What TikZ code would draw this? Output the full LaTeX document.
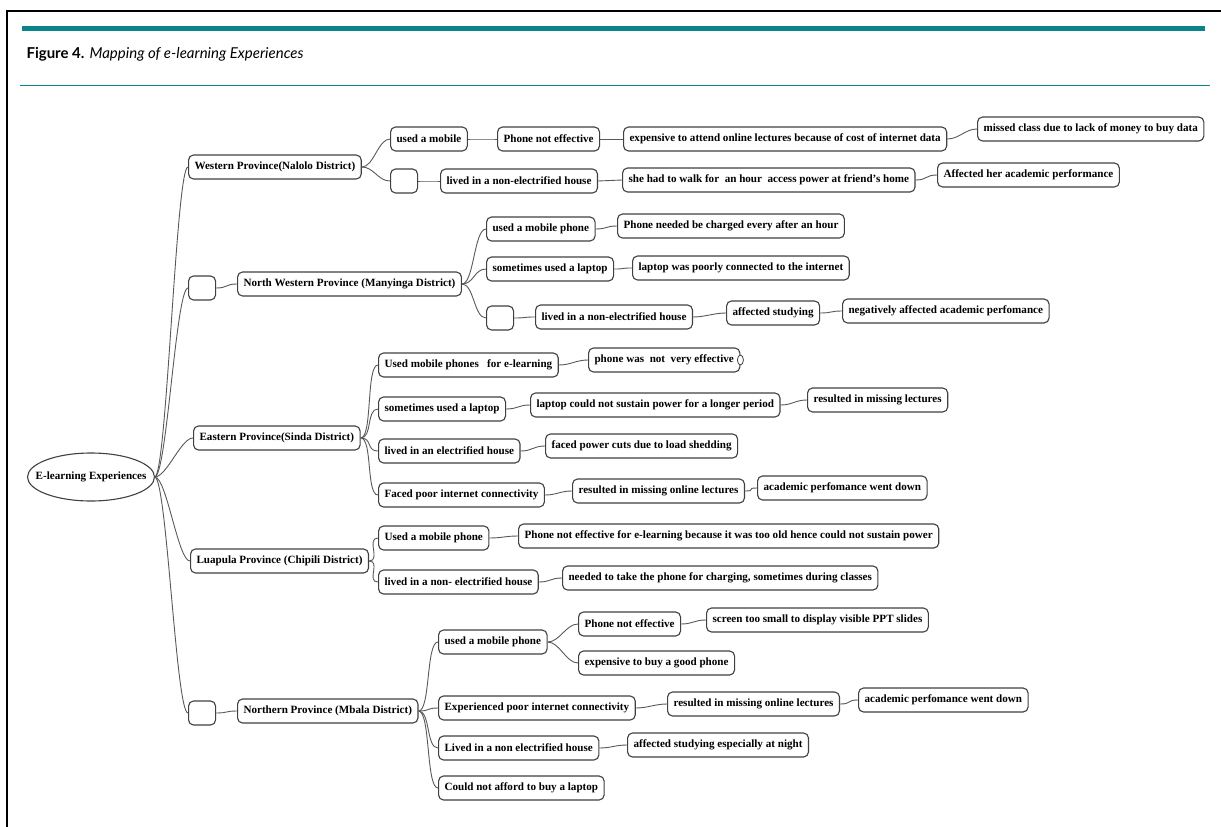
\documentclass[tikz,border=0pt]{standalone}
\usepackage{fontspec}
\setmainfont{Liberation Serif}
\newfontfamily\capfont{Lato}
\usetikzlibrary{shapes.geometric}
\definecolor{tealbar}{RGB}{10,132,138}

\begin{document}
\begin{tikzpicture}[x=1pt,y=-1pt,
    box/.style={draw=black!75, line width=1.1pt, rounded corners=5pt, fill=white, minimum height=24pt, inner xsep=6pt, inner ysep=2pt, anchor=west, font=\bfseries\fontsize{11.1}{13}\selectfont},
    blank/.style={box, minimum width=27pt},
    branch/.style={draw=black!65, line width=0.9pt, to path={.. controls +(12,0) and +(-12,0) .. (\tikztotarget)}}]
    \useasboundingbox (0,0) rectangle (1221,827);
    \draw[line width=1.5pt] (7,827) -- (7,11) -- (1221,11);
    \draw[tealbar, line width=5pt] (22,28) -- (1205,28);
    \draw[tealbar, line width=1pt] (20,85) -- (1210,85);
    \node[anchor=west, font=\capfont\fontsize{15}{17}\selectfont] (cap) at (23,54) {\textbf{Figure 4.} \textit{Mapping of e-learning Experiences}};

    \node[minimum width=127pt, minimum height=48pt, inner sep=0pt, font=\bfseries\fontsize{11.1}{13}\selectfont] (root) at (91,477) {E-learning Experiences};
    \draw[black!75, line width=1.1pt] (root.center) ellipse [x radius=63.5pt, y radius=24pt];

    \node[box] (west) at (188,167) {Western Province(Nalolo District)};
    \node[box] (w1) at (390,139) {used a mobile};
    \node[box] (w1a) at (497,139) {Phone not effective};
    \node[box] (w1b) at (623,139) {expensive to attend online lectures because of cost of internet data};
    \node[box] (w1c) at (977,129) {missed class due to lack of money to buy data};
    \node[blank] (wbox) at (390,181) {};
    \node[box] (w2) at (440,181) {lived in a non-electrified house};
    \node[box] (w2a) at (622,180) {she had to walk for\ \ an hour\ \ access power at friend's home};
    \node[box] (w2b) at (937,175) {Affected her academic performance};

    \node[blank] (nwbox) at (188,288) {};
    \node[box] (nw) at (237,284) {North Western Province (Manyinga District)};
    \node[box] (nw1) at (486,229) {used a mobile phone};
    \node[box] (nw1a) at (617,226) {Phone needed be charged every after an hour};
    \node[box] (nw2) at (486,269) {sometimes used a laptop};
    \node[box] (nw2a) at (632,268) {laptop was poorly connected to the internet};
    \node[blank] (nwbox2) at (486,318) {};
    \node[box] (nw3) at (535,317) {lived in a non-electrified house};
    \node[box] (nw3a) at (726,313) {affected studying};
    \node[box] (nw3b) at (842,311) {negatively affected academic perfomance};

    \node[box] (east) at (193,438) {Eastern Province(Sinda District)};
    \node[box] (e1) at (378,365) {Used mobile phones\ \ \ for e-learning};
    \node[box] (e1a) at (588,360) {phone was\ \ not\ \ very effective};
    \node[draw=black!75, line width=0.8pt, fill=white, ellipse, minimum width=6pt, minimum height=10pt, inner sep=0pt] (e1knob) at (e1a.east) {};
    \node[box] (e2) at (378,409) {sometimes used a laptop};
    \node[box] (e2a) at (530,405) {laptop could not sustain power for a longer period};
    \node[box] (e2b) at (807,400) {resulted in missing lectures};
    \node[box] (e3) at (378,451) {lived in an electrified house};
    \node[box] (e3a) at (545,446) {faced power cuts due to load shedding};
    \node[box] (e4) at (378,495) {Faced poor internet connectivity};
    \node[box] (e4a) at (572,491) {resulted in missing online lectures};
    \node[box] (e4b) at (757,488) {academic perfomance went down};

    \node[box] (luap) at (190,561) {Luapula Province (Chipili District)};
    \node[box] (l1) at (378,538) {Used a mobile phone};
    \node[box] (l1a) at (518,536) {Phone not effective for e-learning because it was too old hence could not sustain power};
    \node[box] (l2) at (378,582) {lived in a non- electrified house};
    \node[box] (l2a) at (562,578) {needed to take the phone for charging, sometimes during classes};

    \node[blank] (nbox) at (188,713) {};
    \node[box] (north) at (237,711) {Northern Province (Mbala District)};
    \node[box] (n1) at (438,642) {used a mobile phone};
    \node[box] (n1a) at (578,624) {Phone not effective};
    \node[box] (n1c) at (706,620) {screen too small to display visible PPT slides};
    \node[box] (n1b) at (578,663) {expensive to buy a good phone};
    \node[box] (n2) at (438,708) {Experienced poor internet connectivity};
    \node[box] (n2a) at (667,704) {resulted in missing online lectures};
    \node[box] (n2b) at (858,700) {academic perfomance went down};
    \node[box] (n3) at (438,748) {Lived in a non electrified house};
    \node[box] (n3a) at (627,745) {affected studying especially at night};
    \node[box] (n4) at (438,788) {Could not afford to buy a laptop};

    \draw[branch] (root.east) to (west.west);
    \draw[branch] (root.east) to (nwbox.west);
    \draw[branch] (root.east) to (east.west);
    \draw[branch] (root.east) to (luap.west);
    \draw[branch] (root.east) to (nbox.west);
    \draw[branch] (west.east) to (w1.west);
    \draw[branch] (west.east) to (wbox.west);
    \draw[branch] (w1.east) to (w1a.west);
    \draw[branch] (w1a.east) to (w1b.west);
    \draw[branch] (w1b.east) to (w1c.west);
    \draw[branch] (wbox.east) to (w2.west);
    \draw[branch] (w2.east) to (w2a.west);
    \draw[branch] (w2a.east) to (w2b.west);
    \draw[branch] (nwbox.east) to (nw.west);
    \draw[branch] (nw.east) to (nw1.west);
    \draw[branch] (nw.east) to (nw2.west);
    \draw[branch] (nw.east) to (nwbox2.west);
    \draw[branch] (nw1.east) to (nw1a.west);
    \draw[branch] (nw2.east) to (nw2a.west);
    \draw[branch] (nwbox2.east) to (nw3.west);
    \draw[branch] (nw3.east) to (nw3a.west);
    \draw[branch] (nw3a.east) to (nw3b.west);
    \draw[branch] (east.east) to (e1.west);
    \draw[branch] (east.east) to (e2.west);
    \draw[branch] (east.east) to (e3.west);
    \draw[branch] (east.east) to (e4.west);
    \draw[branch] (e1.east) to (e1a.west);
    \draw[branch] (e2.east) to (e2a.west);
    \draw[branch] (e2a.east) to (e2b.west);
    \draw[branch] (e3.east) to (e3a.west);
    \draw[branch] (e4.east) to (e4a.west);
    \draw[branch] (e4a.east) to (e4b.west);
    \draw[branch] (luap.east) to (l1.west);
    \draw[branch] (luap.east) to (l2.west);
    \draw[branch] (l1.east) to (l1a.west);
    \draw[branch] (l2.east) to (l2a.west);
    \draw[branch] (nbox.east) to (north.west);
    \draw[branch] (north.east) to (n1.west);
    \draw[branch] (north.east) to (n2.west);
    \draw[branch] (north.east) to (n3.west);
    \draw[branch] (north.east) to (n4.west);
    \draw[branch] (n1.east) to (n1a.west);
    \draw[branch] (n1.east) to (n1b.west);
    \draw[branch] (n1a.east) to (n1c.west);
    \draw[branch] (n2.east) to (n2a.west);
    \draw[branch] (n2a.east) to (n2b.west);
    \draw[branch] (n3.east) to (n3a.west);
\end{tikzpicture}
\end{document}
